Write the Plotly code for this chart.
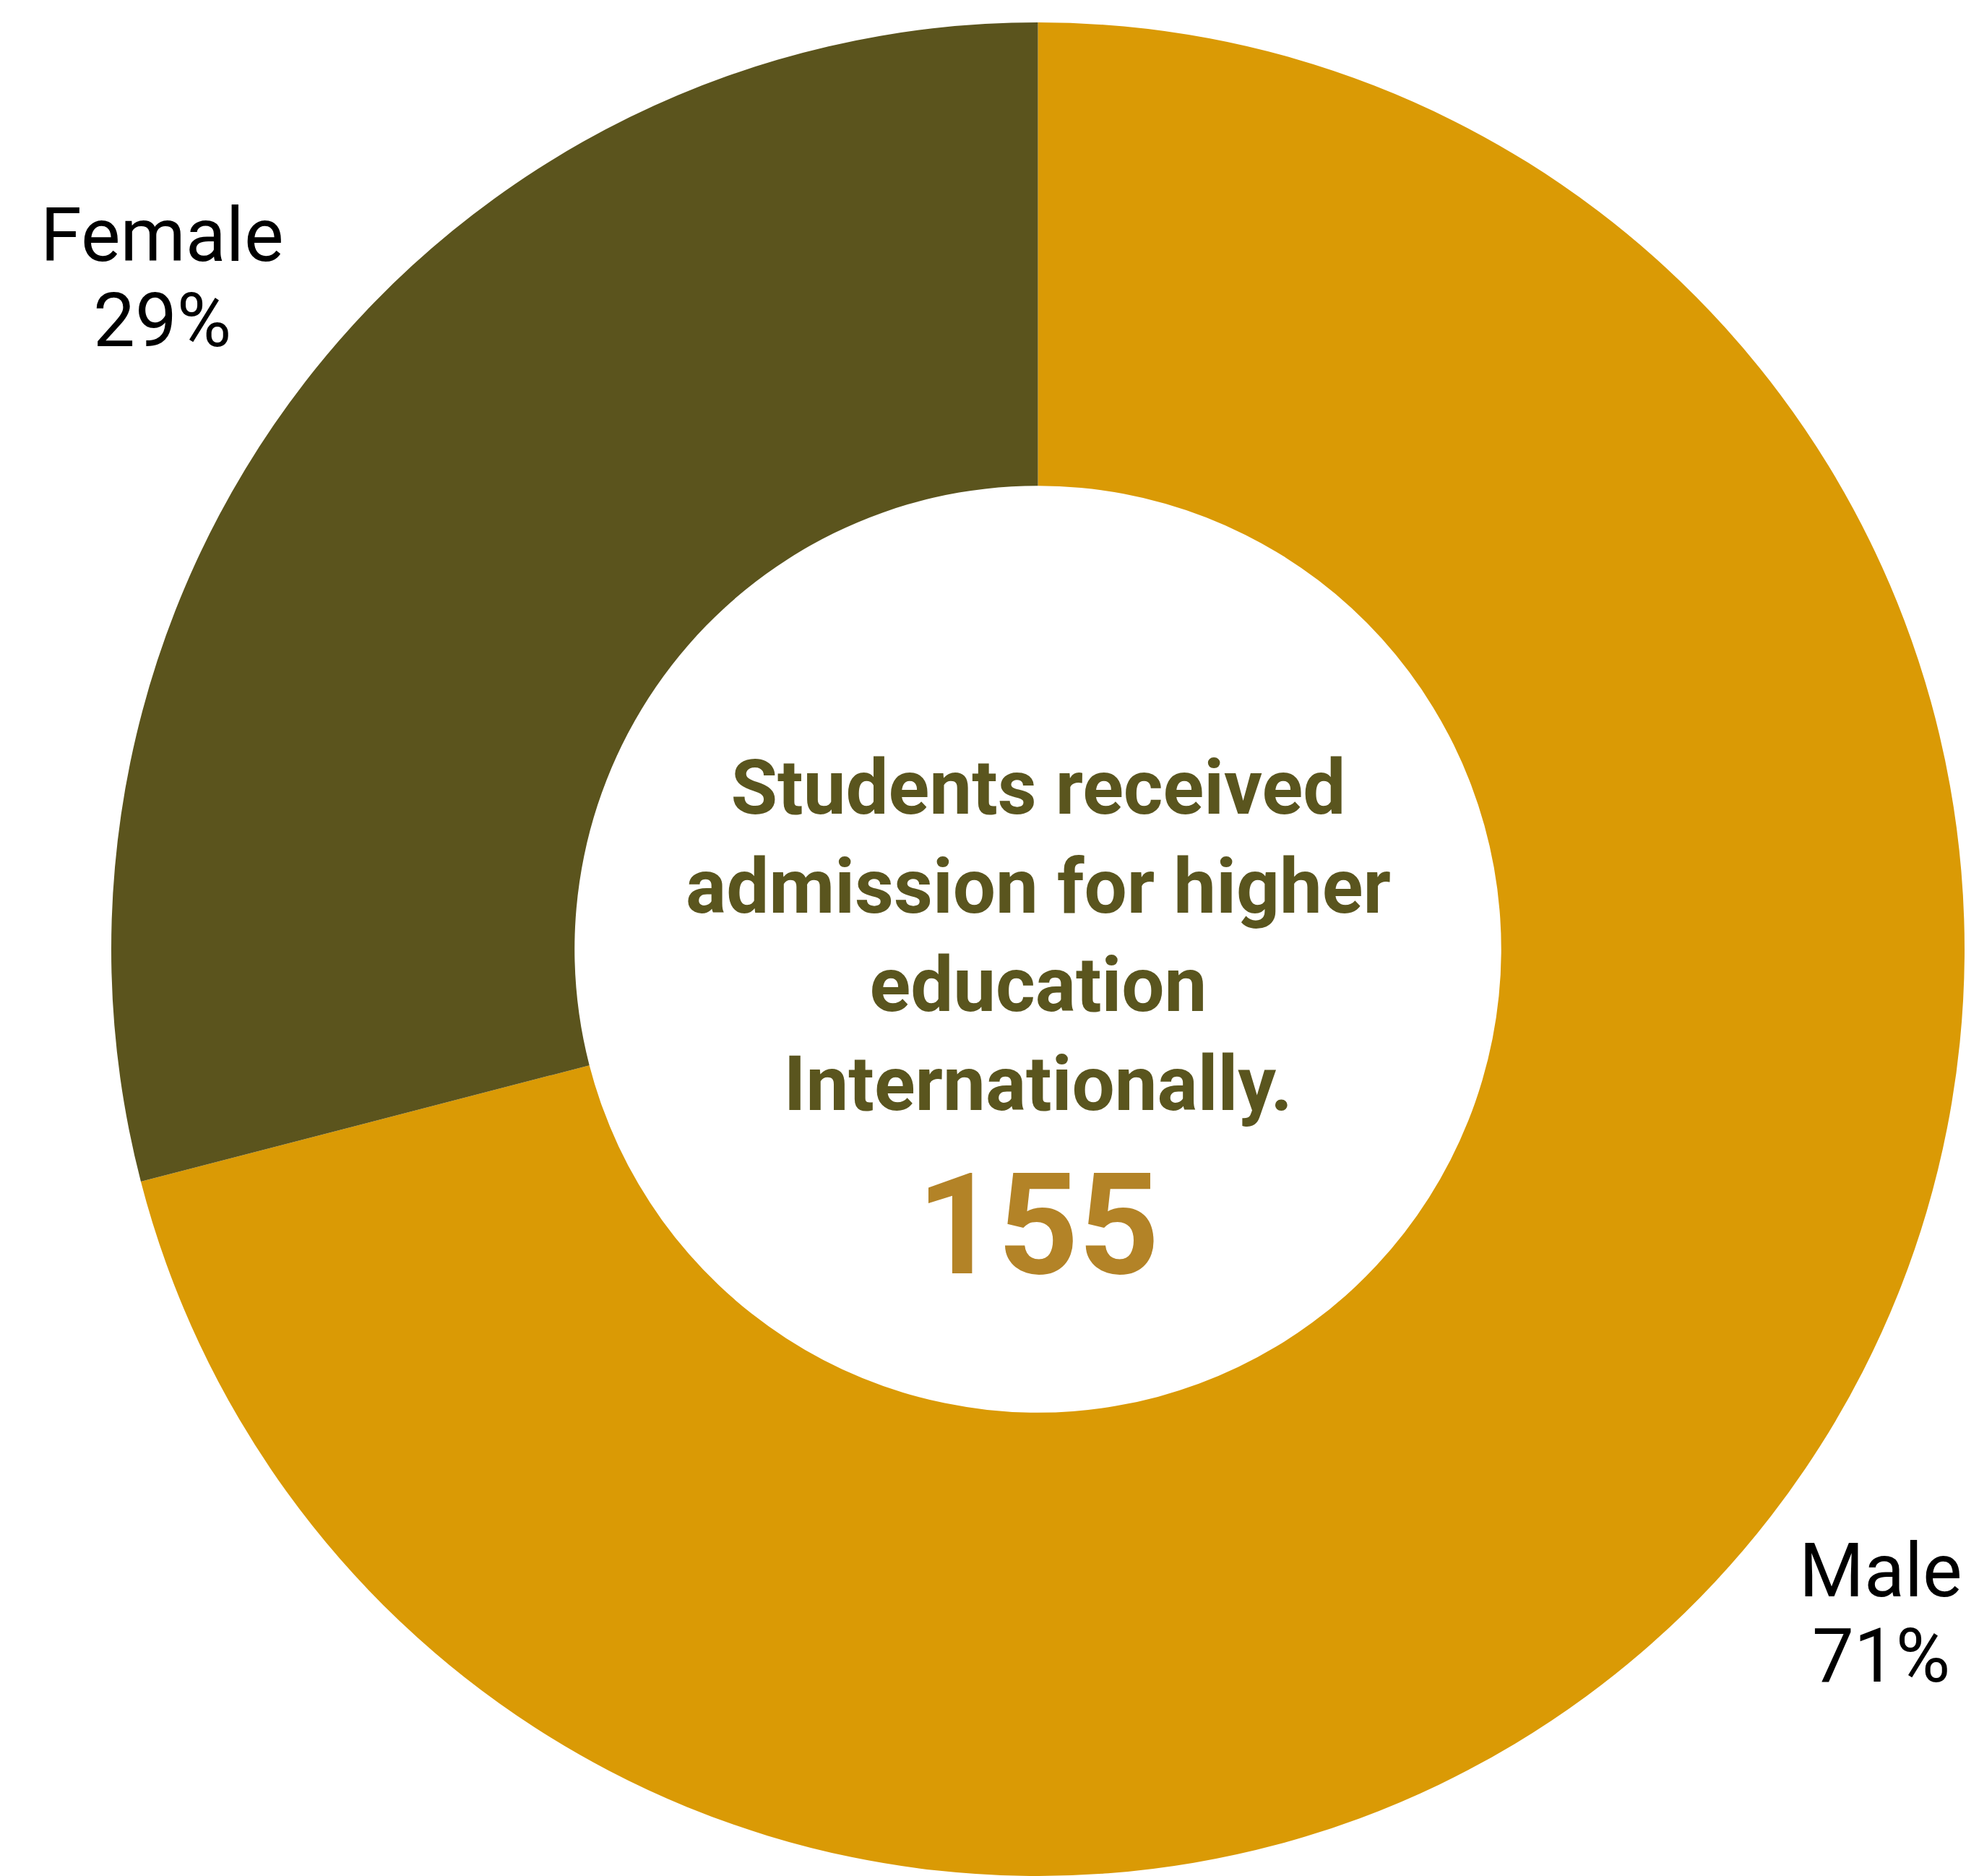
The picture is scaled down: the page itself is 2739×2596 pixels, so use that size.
import math
import plotly.graph_objects as go

# Data
categories = ["Male", "Female"]
counts = [110, 45]
slice_colors = ["#DA9A05", "#5B541D"]
center_title = "Students received<br>admission for higher<br>education<br>Internationally."
total = sum(counts)
total_label = str(total)

W, H = 2739, 2596
cx, top = 1436.5, 31
r = (H - top) / 2
cy = top + r

fig = go.Figure(
    go.Pie(
        labels=categories,
        values=counts,
        sort=False,
        direction="clockwise",
        rotation=0,
        hole=0.5,
        marker=dict(colors=slice_colors, line=dict(width=0)),
        textinfo="none",
        showlegend=False,
        domain=dict(x=[(cx - r) / W, (cx + r) / W], y=[0, 1 - top / H]),
        hoverinfo="label+value+percent",
    )
)

# Outside labels: placed along each slice's mid-angle (clockwise from 12 o'clock)
fs = 103
gap = 1335
cum = 0.0
for name, v in zip(categories, counts):
    frac = v / total
    mid = (cum + frac / 2) * 2 * math.pi
    cum += frac
    dx, dy = math.sin(mid), -math.cos(mid)
    pct = f"{round(100 * frac)}%"
    hw = 0.5 * max(len(name), len(pct)) * 0.54 * fs
    hh = 0.95 * fs
    lx = cx + gap * dx + math.copysign(hw, dx)
    ly = cy + gap * dy + math.copysign(hh, dy)
    if dy < 0:
        ly -= 0.17 * fs   # descender room below the text box
    if dx < 0:
        lx += 0.1 * fs
    for txt, off in ((name, -59), (pct, 59)):
        fig.add_annotation(
            text=txt, x=lx / W, y=1 - (ly + off + 3.6) / H,
            xref="paper", yref="paper", showarrow=False,
            xanchor="center", yanchor="middle",
            font=dict(family="Roboto", size=fs, color="#000000"),
        )

fig.add_annotation(
    text=center_title, x=cx / W, y=1 - 1295 / H, xref="paper", yref="paper",
    showarrow=False, xanchor="center", yanchor="middle",
    font=dict(family="Roboto", size=105, color="#5A551E", weight="bold"),
)
fig.add_annotation(
    text=total_label, x=cx / W, y=1 - 1695 / H, xref="paper", yref="paper",
    showarrow=False, xanchor="center", yanchor="middle",
    font=dict(family="Roboto", size=195, color="#B38327", weight="bold"),
)

fig.update_layout(
    width=W, height=H,
    margin=dict(l=0, r=0, t=0, b=0),
    paper_bgcolor="white", plot_bgcolor="white",
)

fig.write_html(
    "out.html",
    config={"displayModeBar": False},
    post_script="document.body.style.margin='0';",
)
